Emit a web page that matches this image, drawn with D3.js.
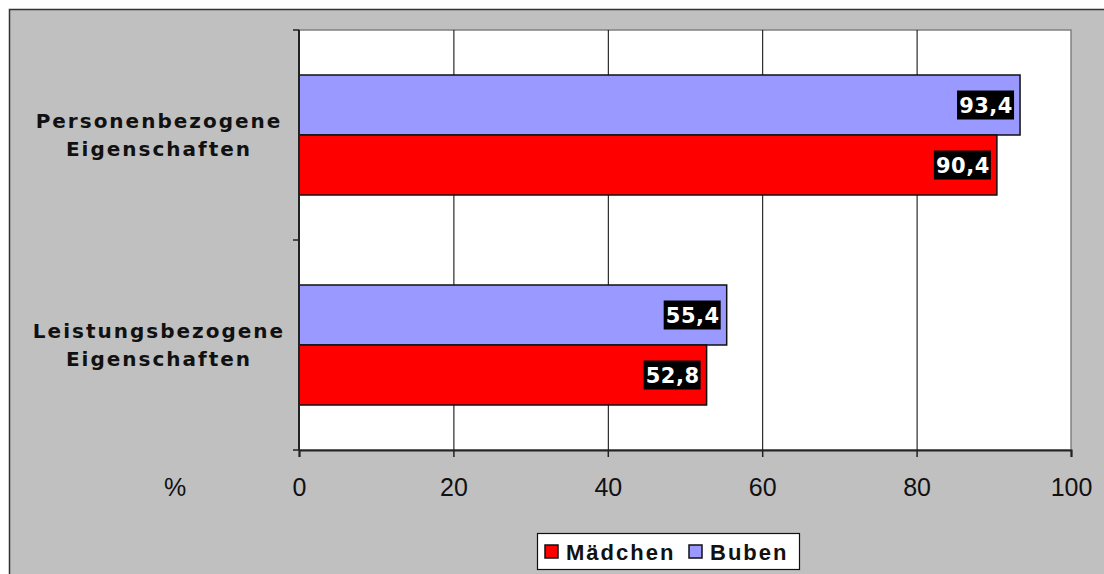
<!DOCTYPE html>
<html>
<head>
<meta charset="utf-8">
<script src="https://cdn.jsdelivr.net/npm/d3@7"></script>
<style>
  body { margin: 0; background: #fff; }
  svg { display: block; }
</style>
</head>
<body>
<svg id="chart"></svg>
<script>
"use strict";

// Kategorien (von oben nach unten)
var kategorien = ["Personenbezogene Eigenschaften", "Leistungsbezogene Eigenschaften"];
// Serien in der Reihenfolge der Balken innerhalb einer Kategorie
var serien = ["Buben", "Mädchen"];
var werteBuben = [93.4, 55.4];
var werteMaedchen = [90.4, 52.8];
var xTicks = [0, 20, 40, 60, 80, 100];
var legende = ["Mädchen", "Buben"];

var farben = { "Mädchen": "#ff0000", "Buben": "#9999ff" };

var breite = 1104, hoehe = 574;
var svg = d3.select("#chart").attr("width", breite).attr("height", hoehe);

// Hintergrund mit Rahmen (rechts und unten abgeschnitten)
svg.append("rect")
    .attr("x", 9.5).attr("y", 9.5)
    .attr("width", 1120).attr("height", 600)
    .attr("fill", "#c0c0c0")
    .attr("stroke", "#333").attr("stroke-width", 1.5);

var plot = { links: 299, oben: 30, rechts: 1071, unten: 450 };

var x = d3.scaleLinear().domain([0, 100]).range([plot.links, plot.rechts]);
var y = d3.scaleBand().domain(kategorien).range([plot.oben, plot.unten]);
var yInnen = d3.scaleBand().domain(serien).range([45, 165]);

// Plotfläche
svg.append("rect")
    .attr("x", plot.links).attr("y", plot.oben)
    .attr("width", plot.rechts - plot.links).attr("height", plot.unten - plot.oben)
    .attr("fill", "#fff")
    .attr("stroke", "#808080").attr("stroke-width", 1.5);

// Gitterlinien
svg.append("g")
    .selectAll("line")
    .data(xTicks.filter(function (d) { return d > 0 && d < 100; }))
    .enter().append("line")
    .attr("x1", function (d) { return x(d) + 0.5; })
    .attr("x2", function (d) { return x(d) + 0.5; })
    .attr("y1", plot.oben).attr("y2", plot.unten)
    .attr("stroke", "#000").attr("stroke-width", 1);

// Daten je Kategorie
var daten = kategorien.map(function (k, i) {
    return { kategorie: k, werte: { "Buben": werteBuben[i], "Mädchen": werteMaedchen[i] } };
});

var gruppe = svg.append("g")
    .selectAll("g")
    .data(daten)
    .enter().append("g")
    .attr("transform", function (d) { return "translate(0," + y(d.kategorie) + ")"; });

var balken = gruppe.selectAll("g")
    .data(function (d) {
        return serien.map(function (s) { return { serie: s, wert: d.werte[s] }; });
    })
    .enter().append("g");

balken.append("rect")
    .attr("x", x(0))
    .attr("y", function (d) { return yInnen(d.serie); })
    .attr("width", function (d) { return x(d.wert) - x(0); })
    .attr("height", yInnen.bandwidth())
    .attr("fill", function (d) { return farben[d.serie]; })
    .attr("stroke", "#111").attr("stroke-width", 1.5);

// Wertebeschriftung: weiße Schrift auf schwarzem Kasten
balken.append("rect")
    .attr("x", function (d) { return x(d.wert) - 6 - 57; })
    .attr("y", function (d) { return yInnen(d.serie) + yInnen.bandwidth() / 2 - 14.5; })
    .attr("width", 57).attr("height", 29)
    .attr("fill", "#000");

balken.append("text")
    .attr("x", function (d) { return x(d.wert) - 6 - 28; })
    .attr("y", function (d) { return yInnen(d.serie) + yInnen.bandwidth() / 2 + 8; })
    .attr("text-anchor", "middle")
    .attr("fill", "#fff")
    .style("font-family", "'DejaVu Sans', Verdana, sans-serif")
    .style("font-weight", "bold")
    .style("font-size", "21px")
    .style("letter-spacing", "0.5px")
    .text(function (d) { return d3.format(".1f")(d.wert).replace(".", ","); });

// y-Achse
svg.append("line")
    .attr("x1", plot.links).attr("x2", plot.links)
    .attr("y1", plot.oben).attr("y2", plot.unten)
    .attr("stroke", "#222").attr("stroke-width", 2);

svg.append("g")
    .selectAll("line")
    .data([plot.oben, y(kategorien[1]), plot.unten])
    .enter().append("line")
    .attr("x1", plot.links - 6).attr("x2", plot.links)
    .attr("y1", function (d) { return d; }).attr("y2", function (d) { return d; })
    .attr("stroke", "#222").attr("stroke-width", 1.5);

// Kategorienbeschriftung (zweizeilig)
var katText = svg.append("g")
    .selectAll("text")
    .data(kategorien)
    .enter().append("text")
    .attr("text-anchor", "middle")
    .style("font-family", "'DejaVu Sans', Verdana, sans-serif")
    .style("font-weight", "bold")
    .style("font-size", "20px")
    .style("letter-spacing", "2px")
    .attr("fill", "#111");

katText.selectAll("tspan")
    .data(function (d) { return d.split(" ").map(function (w) { return { wort: w, kat: d }; }); })
    .enter().append("tspan")
    .attr("x", 159)
    .attr("y", function (d, i) { return y(d.kat) + y.bandwidth() / 2 - 7 + i * 28; })
    .text(function (d) { return d.wort; });

// x-Achse
var xAchse = d3.axisBottom(x).tickValues(xTicks).tickSize(7).tickPadding(21).tickFormat(d3.format("d"));
var gx = svg.append("g")
    .attr("transform", "translate(0," + plot.unten + ")")
    .call(xAchse);
gx.select(".domain").attr("stroke", "#222").attr("stroke-width", 2);
gx.selectAll(".tick line").attr("stroke", "#222").attr("stroke-width", 1.5);
gx.selectAll(".tick text")
    .attr("fill", "#111")
    .style("font-family", "'Liberation Sans', Arial, sans-serif")
    .style("font-size", "25px");

svg.append("text")
    .attr("x", 175).attr("y", 496)
    .attr("text-anchor", "middle")
    .attr("fill", "#111")
    .style("font-family", "'Liberation Sans', Arial, sans-serif")
    .style("font-size", "25px")
    .text("%");

// Legende
var leg = svg.append("g");
leg.append("rect")
    .attr("x", 537.5).attr("y", 533.5)
    .attr("width", 262).attr("height", 36)
    .attr("fill", "#fff").attr("stroke", "#111").attr("stroke-width", 1.2);

var legX = [545, 689];
var eintrag = leg.selectAll("g")
    .data(legende)
    .enter().append("g")
    .attr("transform", function (d, i) { return "translate(" + legX[i] + ",545)"; });

eintrag.append("rect")
    .attr("width", 13).attr("height", 13)
    .attr("fill", function (d) { return farben[d]; })
    .attr("stroke", "#111").attr("stroke-width", 1.5);

eintrag.append("text")
    .attr("x", 21).attr("y", 14.5)
    .attr("fill", "#111")
    .style("font-family", "'Liberation Sans', Arial, sans-serif")
    .style("font-weight", "bold")
    .style("font-size", "22px")
    .style("letter-spacing", "2px")
    .text(function (d) { return d; });
</script>
</body>
</html>
